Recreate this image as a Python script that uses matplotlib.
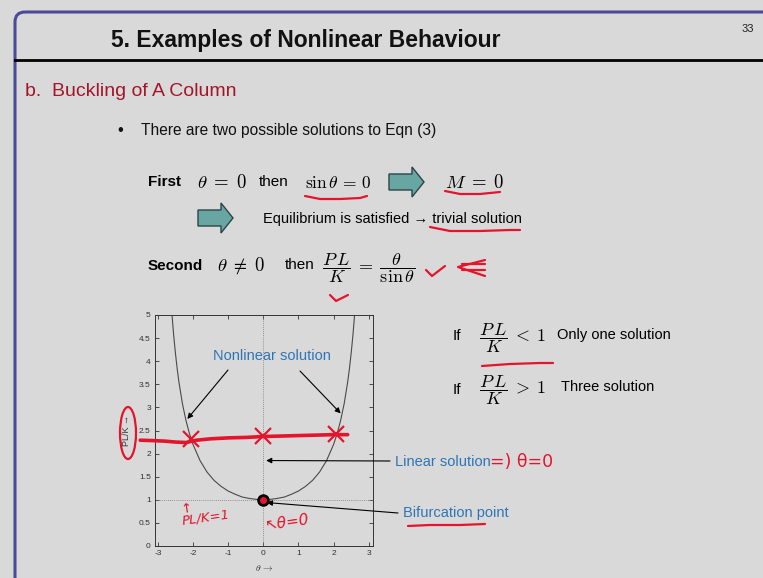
import matplotlib
matplotlib.use("Agg")
import matplotlib.pyplot as plt
from matplotlib.patches import FancyBboxPatch, FancyArrow, Ellipse

plt.rcParams["mathtext.fontset"] = "cm"

# ---- curve PL/K = theta / sin(theta), sampled values ----
theta = [-2.60, -2.55, -2.50, -2.45, -2.40, -2.30, -2.20, -2.10, -2.00, -1.80,
         -1.60, -1.40, -1.20, -1.00, -0.80, -0.60, -0.40, -0.20, 0.00,
         0.20, 0.40, 0.60, 0.80, 1.00, 1.20, 1.40, 1.60, 1.80, 2.00,
         2.10, 2.20, 2.30, 2.40, 2.45, 2.50, 2.55, 2.60]
pl_over_k = [5.04, 4.57, 4.18, 3.84, 3.55, 3.08, 2.72, 2.43, 2.20, 1.85,
             1.60, 1.42, 1.29, 1.19, 1.12, 1.06, 1.03, 1.01, 1.00,
             1.01, 1.03, 1.06, 1.12, 1.19, 1.29, 1.42, 1.60, 1.85, 2.20,
             2.43, 2.72, 3.08, 3.55, 3.84, 4.18, 4.57, 5.04]

# bifurcation point
bif_theta = [0.0]
bif_load = [1.0]

# hand-drawn load level and its three intersections
load_line_x = [-3.50, -3.10, -2.80, -2.50, -2.20, -1.90, -1.50, -1.00, -0.50, 0.00, 0.50, 1.00, 1.50, 2.00, 2.40]
load_line_y = [2.29, 2.28, 2.27, 2.25, 2.24, 2.29, 2.32, 2.34, 2.35, 2.37, 2.38, 2.39, 2.40, 2.41, 2.41]
cross_x = [-2.07, 0.00, 2.08]
cross_y = [2.31, 2.38, 2.42]

x_ticks = [-3, -2, -1, 0, 1, 2, 3]
y_ticks = [0, 0.5, 1, 1.5, 2, 2.5, 3, 3.5, 4, 4.5, 5]
y_tick_labels = ["0", "0.5", "1", "1.5", "2", "2.5", "3", "3.5", "4", "4.5", "5"]

BG = "#d9d9d9"
BLUE = "#2e75b6"
RED = "#e4142c"
SANS = ["Liberation Sans", "DejaVu Sans"]

W, H = 763, 578
fig = plt.figure(figsize=(W / 100, H / 100), dpi=100, facecolor=BG)

# ---- slide layer in pixel coordinates ----
ov = fig.add_axes([0, 0, 1, 1], zorder=0)
ov.set_xlim(0, W)
ov.set_ylim(H, 0)
ov.axis("off")

frame = FancyBboxPatch((15, 12), 800, 620, boxstyle="round,pad=0,rounding_size=10",
                       facecolor="none", edgecolor="#4a4a9a", linewidth=2.2)
ov.add_patch(frame)
ov.plot([15, W], [60, 60], color="black", lw=2.0)

ov.text(306, 40, "5. Examples of Nonlinear Behaviour", family=SANS, weight="bold",
        fontsize=16.5, ha="center", va="center", color="#111111")
ov.text(748, 29, "33", family=SANS, fontsize=8, ha="center", va="center", color="#222222")
ov.text(25, 91, "b.  Buckling of A Column", family=SANS, fontsize=14,
        ha="left", va="center", color="#a3162a")
ov.text(117, 130, "\u2022", family=SANS, fontsize=12, ha="left", va="center", color="#111111")
ov.text(141, 131, "There are two possible solutions to Eqn (3)", family=SANS,
        fontsize=11.2, ha="left", va="center", color="#111111")

# First solution line
ov.text(148, 182, "First", family=SANS, weight="bold", fontsize=11, ha="left", va="center")
ov.text(197, 183, r"$\theta\;=\;0$", fontsize=13.5, ha="left", va="center")
ov.text(259, 182, "then", family=SANS, fontsize=11, ha="left", va="center")
ov.text(305, 183, r"$\sin\theta\,=\,0$", fontsize=12.5, ha="left", va="center")
ov.text(445, 183, r"$M\;=\;0$", fontsize=13.5, ha="left", va="center")


def block_arrow(x0, y0, length):
    ov.add_patch(FancyArrow(x0, y0, length, 0, width=16, head_width=30, head_length=12,
                            length_includes_head=True, facecolor="#67a6a2",
                            edgecolor="#2c4545", linewidth=1.0))


block_arrow(389, 182, 35)
block_arrow(198, 218, 35)
ov.text(263, 219, "Equilibrium is satisfied \u2192 trivial solution", family=SANS,
        fontsize=10.5, ha="left", va="center")

# Second solution line
ov.text(148, 266, "Second", family=SANS, weight="bold", fontsize=11, ha="left", va="center")
ov.text(217, 266, r"$\theta\;\neq\;0$", fontsize=13.5, ha="left", va="center")
ov.text(285, 265, "then", family=SANS, fontsize=11, ha="left", va="center")
ov.text(322, 268, r"$\dfrac{P\,L}{K}\;=\;\dfrac{\theta}{\sin\theta}$", fontsize=13,
        ha="left", va="center")

# Conditions on the right
ov.text(453, 336, "If", family=SANS, fontsize=11, ha="left", va="center")
ov.text(479, 338, r"$\dfrac{P\,L}{K}\;<\;1$", fontsize=13, ha="left", va="center")
ov.text(557, 335, "Only one solution", family=SANS, fontsize=10.5, ha="left", va="center")
ov.text(453, 390, "If", family=SANS, fontsize=11, ha="left", va="center")
ov.text(479, 390, r"$\dfrac{P\,L}{K}\;>\;1$", fontsize=13, ha="left", va="center")
ov.text(561, 387, "Three solution", family=SANS, fontsize=10.5, ha="left", va="center")

ov.text(395, 462, "Linear solution", family=SANS, fontsize=10.5, color=BLUE,
        ha="left", va="center")
ov.text(403, 513, "Bifurcation point", family=SANS, fontsize=10.5, color=BLUE,
        ha="left", va="center")
ov.text(272, 356, "Nonlinear solution", family=SANS, fontsize=10.5, color=BLUE,
        ha="center", va="center", zorder=5)

# red pen marks
pen = dict(color=RED, lw=1.6, solid_capstyle="round")
ov.plot([305, 320, 340, 360, 367], [196, 199, 199, 198, 196], **pen)
ov.plot([445, 460, 480, 500], [191, 194, 194, 192], **pen)
ov.plot([430, 450, 480, 510, 520], [227, 231, 231, 230, 230], **pen)
ov.plot([426, 432, 445], [270, 276, 266], **pen)
ov.plot([330, 336, 348], [295, 301, 295], **pen)
ov.plot([485, 458, 485], [260, 267, 276], **pen)
ov.plot([462, 485], [264, 264], **pen)
ov.plot([462, 485], [270, 270], **pen)
ov.plot([482, 510, 540, 553], [366, 364, 363, 363], **pen)
ov.plot([408, 430, 460, 485], [526, 525, 525, 524], **pen)
ov.text(490, 462, "=) \u03b8=0", color=RED, fontsize=12.5, ha="left", va="center",
        family=["DejaVu Sans"])
ov.text(180, 512, "\u2191\nPL/K=1", color=RED, fontsize=9.5, rotation=8, ha="left",
        va="center", style="italic", linespacing=0.8)
ov.text(264, 522, "\u2196\u03b8=0", color=RED, fontsize=11, ha="left", va="center",
        style="italic", rotation=8)
ov.add_patch(Ellipse((128, 433), 16, 52, facecolor="none", edgecolor=RED, lw=1.6, zorder=5))

# ---- chart ----
ax = fig.add_axes([155 / W, 1 - 546 / H, 218 / W, 231 / H], zorder=2)
ax.set_facecolor("none")
ax.plot(theta, pl_over_k, color="#4a4a4a", lw=0.8)
ax.axhline(1.0, color="#777777", lw=0.6, ls=(0, (1, 1.5)))
ax.axvline(0.0, color="#777777", lw=0.6, ls=(0, (1, 1.5)))
ax.plot(bif_theta, bif_load, "o", color="black", ms=8, zorder=4)
ax.plot(bif_theta, bif_load, "o", color=RED, ms=4, zorder=5)

ax.plot(load_line_x, load_line_y, color=RED, lw=2.6, solid_capstyle="round",
        clip_on=False, zorder=3)
ax.plot(cross_x, cross_y, "x", color=RED, ms=11, mew=1.6, zorder=3)

ax.set_xlim(-3.08, 3.12)
ax.set_ylim(0, 5)
ax.set_xticks(x_ticks)
ax.set_xticklabels([str(t) for t in x_ticks])
ax.set_yticks(y_ticks)
ax.set_yticklabels(y_tick_labels)
ax.tick_params(direction="in", length=3, width=0.6, labelsize=6, colors="#333333",
               top=True, right=True, pad=3)
for lab in ax.get_xticklabels() + ax.get_yticklabels():
    lab.set_family(SANS)
for sp in ax.spines.values():
    sp.set_color("#333333")
    sp.set_linewidth(0.7)
ax.set_xlabel(r"$\theta\,\rightarrow$", fontsize=7, color="#333333", labelpad=4)
ax.set_ylabel("PL/K \u2192", fontsize=6.5, color="#333333", family=SANS, labelpad=6)

arrow = dict(arrowstyle="-|>", color="black", lw=0.8, mutation_scale=8, shrinkA=0, shrinkB=0)
px = ov.transData
ax.annotate("", xy=(-2.16, 2.75), xytext=(228, 370), textcoords=px,
            arrowprops=arrow, annotation_clip=False)
ax.annotate("", xy=(2.20, 2.87), xytext=(300, 371), textcoords=px,
            arrowprops=arrow, annotation_clip=False)
ax.annotate("", xy=(0.08, 1.85), xytext=(390, 461), textcoords=px,
            arrowprops=arrow, annotation_clip=False)
ax.annotate("", xy=(0.10, 0.94), xytext=(398, 513), textcoords=px,
            arrowprops=arrow, annotation_clip=False)

fig.savefig("out.png", dpi=100, facecolor=BG)
